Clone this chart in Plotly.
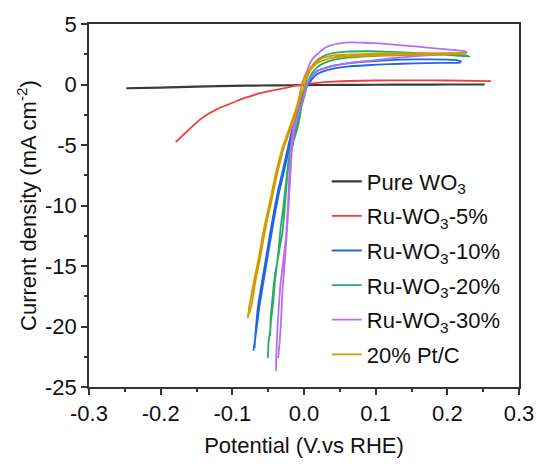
import plotly.graph_objects as go

# ---------------- data ----------------
pure_x = [-0.248, -0.20, -0.15, -0.12, -0.08, -0.04, 0.0, 0.05, 0.10, 0.15, 0.20, 0.252]
pure_y = [-0.31, -0.25, -0.18, -0.14, -0.10, -0.07, -0.05, -0.03, -0.02, -0.01, 0.0, 0.0]

ru5_x = [-0.179, -0.17, -0.161, -0.152, -0.143, -0.132, -0.12, -0.106, -0.092, -0.078, -0.065, -0.05,
         -0.037, -0.025, -0.014, 0.0, 0.018, 0.04, 0.064, 0.10, 0.15, 0.20, 0.261]
ru5_y = [-4.76, -4.25, -3.76, -3.25, -2.8, -2.38, -1.99, -1.66, -1.32, -1.03, -0.77, -0.57,
         -0.42, -0.27, -0.12, 0.02, 0.14, 0.24, 0.29, 0.33, 0.34, 0.33, 0.28]

ru10_x = [-0.0706, -0.068, -0.062, -0.054, -0.046, -0.040, -0.034, -0.028, -0.020, -0.013, -0.007, -0.002,
          0.002, 0.006, 0.010, 0.014, 0.018, 0.025, 0.041, 0.06, 0.087, 0.12, 0.155, 0.19, 0.212,
          0.218, 0.219, 0.215, 0.20, 0.155, 0.12, 0.087, 0.06, 0.041, 0.025, 0.018, 0.012, 0.007,
          0.004, 0.0, -0.004, -0.009, -0.015, -0.022, -0.030, -0.036, -0.042, -0.048, -0.056, -0.064,
          -0.068, -0.069]
ru10_y = [-22.0, -21.0, -18.25, -15.4, -12.56, -10.5, -8.7, -7.2, -5.1, -3.35, -2.0, -0.9,
          -0.3, 0.0, 0.35, 0.62, 0.85, 1.05, 1.31, 1.47, 1.59, 1.68, 1.75, 1.78, 1.79,
          1.82, 1.92, 2.0, 2.05, 2.08, 2.02, 1.9, 1.75, 1.55, 1.28, 1.1, 0.75, 0.3,
          0.0, -0.6, -1.4, -2.3, -3.35, -5.1, -7.2, -8.7, -10.5, -12.56, -15.4, -18.25,
          -20.8, -21.8]

ru20_x = [-0.0505, -0.0495, -0.047, -0.0465, -0.045, -0.042, -0.040, -0.037, -0.033, -0.031, -0.028, -0.026,
          -0.022, -0.015, -0.008, -0.004, -0.001, 0.0017, 0.005, 0.009, 0.013, 0.019, 0.027, 0.035,
          0.045, 0.06, 0.087, 0.12, 0.155, 0.20, 0.231, 0.228, 0.20, 0.155, 0.11, 0.08, 0.055,
          0.04, 0.027, 0.018, 0.011, 0.006, 0.003, -0.002, -0.006, -0.011, -0.016, -0.020, -0.024,
          -0.029, -0.033, -0.035, -0.038, -0.041, -0.043, -0.046, -0.0475]
ru20_y = [-22.6, -21.3, -20.2, -19.2, -18.25, -16.5, -15.5, -14.6, -13.2, -12.56, -11.0, -9.5,
          -6.87, -4.8, -3.35, -2.0, -0.9, 0.0, 0.7, 1.25, 1.67, 2.05, 2.34, 2.52,
          2.64, 2.72, 2.75, 2.7, 2.62, 2.45, 2.3, 2.38, 2.47, 2.45, 2.38, 2.3, 2.18,
          2.02, 1.75, 1.4, 0.9, 0.3, -0.4, -1.5, -2.4, -3.4, -4.6, -5.6, -7.5,
          -10.2, -12.0, -13.4, -15.0, -16.5, -18.0, -19.5, -20.8]

ru30_x = [-0.0386, -0.039, -0.038, -0.037, -0.035, -0.033, -0.029, -0.025, -0.022, -0.020, -0.0145, -0.008,
          -0.003, 0.001, 0.005, 0.0086, 0.013, 0.018, 0.026, 0.036, 0.05, 0.064, 0.085, 0.11,
          0.155, 0.19, 0.224, 0.227, 0.224, 0.19, 0.155, 0.12, 0.087, 0.06, 0.041, 0.028, 0.018,
          0.011, 0.006, 0.004, 0.0, -0.006, -0.012, -0.017, -0.019, -0.022, -0.026, -0.030, -0.032,
          -0.034, -0.036]
ru30_y = [-23.7, -22.9, -21.5, -20.1, -18.25, -16.6, -14.6, -12.56, -9.5, -6.87, -3.35, -1.5,
          0.0, 0.7, 1.25, 1.8, 2.2, 2.48, 2.9, 3.21, 3.4, 3.48, 3.45, 3.37,
          3.15, 2.95, 2.75, 2.68, 2.62, 2.47, 2.34, 2.15, 1.93, 1.75, 1.53, 1.32, 1.12,
          0.7, 0.25, 0.0, -0.9, -2.0, -3.35, -5.5, -7.5, -10.5, -14.0, -17.0, -19.5,
          -21.3, -22.6]

ptc_x = [-0.0785, -0.076, -0.069, -0.064, -0.058, -0.053, -0.048, -0.040, -0.035, -0.030, -0.024, -0.019,
         -0.014, -0.010, -0.006, -0.003, 0.001, 0.005, 0.011, 0.018, 0.027, 0.04, 0.055, 0.08,
         0.11, 0.16, 0.20, 0.226, 0.226, 0.20, 0.16, 0.11, 0.08, 0.055, 0.04, 0.027, 0.018,
         0.011, 0.006, 0.002, 0.0, -0.004, -0.008, -0.012, -0.017, -0.022, -0.028, -0.033, -0.038,
         -0.046, -0.051, -0.056, -0.062, -0.067, -0.073, -0.0775]
ptc_y = [-19.3, -18.2, -16.0, -14.6, -12.6, -11.1, -9.8, -7.5, -6.3, -5.2, -4.2, -3.35,
         -2.5, -1.8, -0.9, 0.0, 0.6, 1.05, 1.53, 1.93, 2.21, 2.38, 2.46, 2.51,
         2.54, 2.58, 2.6, 2.63, 2.58, 2.52, 2.47, 2.42, 2.37, 2.3, 2.2, 2.0, 1.75,
         1.35, 0.9, 0.3, -0.2, -0.9, -1.8, -2.5, -3.35, -4.2, -5.2, -6.3, -7.5,
         -9.8, -11.1, -12.6, -14.6, -16.0, -18.2, -19.1]

names = ["Pure WO<sub>3</sub>", "Ru-WO<sub>3</sub>-5%", "Ru-WO<sub>3</sub>-10%",
         "Ru-WO<sub>3</sub>-20%", "Ru-WO<sub>3</sub>-30%", "20% Pt/C"]
colors = ["#3a3a3a", "#f53b3b", "#1f66e5", "#2aab62", "#b86ef2", "#d49b00"]
widths = [2.2, 1.8, 1.8, 1.8, 1.8, 1.8]
series = [(pure_x, pure_y), (ru5_x, ru5_y), (ru10_x, ru10_y),
          (ru20_x, ru20_y), (ru30_x, ru30_y), (ptc_x, ptc_y)]

x_ticks = [-0.3, -0.2, -0.1, 0.0, 0.1, 0.2, 0.3]
x_ticktext = ["-0.3", "-0.2", "-0.1", "0.0", "0.1", "0.2", "0.3"]
y_ticks = [-25, -20, -15, -10, -5, 0, 5]
y_ticktext = ["-25", "-20", "-15", "-10", "-5", "0", "5"]

FONT = "Arial, Liberation Sans, sans-serif"
FS = 22

fig = go.Figure()
for i, ((xs, ys), nm, c, w) in enumerate(zip(series, names, colors, widths)):
    fig.add_trace(go.Scatter(x=xs, y=ys, mode="lines", name=nm, legendgroup=f"g{i}",
                             line=dict(color=c, width=w, shape="spline", smoothing=0.4)))

axis_common = dict(showgrid=False, zeroline=False, showline=True, linecolor="#333333",
                   linewidth=1.5, mirror=True, ticks="outside", ticklen=6, tickwidth=1.5,
                   tickcolor="#333333", tickfont=dict(family=FONT, size=FS, color="#111111"))

fig.update_xaxes(range=[-0.3, 0.3], tickmode="array", tickvals=x_ticks, ticktext=x_ticktext,
                 minor=dict(dtick=0.05, ticks="outside", ticklen=3, tickwidth=1.5, tickcolor="#333333"),
                 title=dict(text="Potential (V.vs RHE)", font=dict(family=FONT, size=FS, color="#111111"),
                            standoff=12),
                 **axis_common)
fig.update_yaxes(range=[-25, 5], tickmode="array", tickvals=y_ticks, ticktext=y_ticktext,
                 minor=dict(dtick=2.5, ticks="outside", ticklen=3, tickwidth=1.5, tickcolor="#333333"),
                 title=dict(text="Current density (mA cm<sup>-2</sup>)",
                            font=dict(family=FONT, size=FS, color="#111111"), standoff=2),
                 **axis_common)

fig.update_layout(
    width=546, height=466,
    margin=dict(l=89, r=20, t=24, b=73),
    plot_bgcolor="white", paper_bgcolor="white",
    font=dict(family=FONT, size=FS, color="#111111"),
    showlegend=True,
    legend=dict(x=0.553, y=0.624, xanchor="left", yanchor="top", bgcolor="rgba(0,0,0,0)",
                font=dict(family=FONT, size=FS, color="#111111"), tracegroupgap=3,
                itemwidth=30),
)

fig.write_html("out.html")
